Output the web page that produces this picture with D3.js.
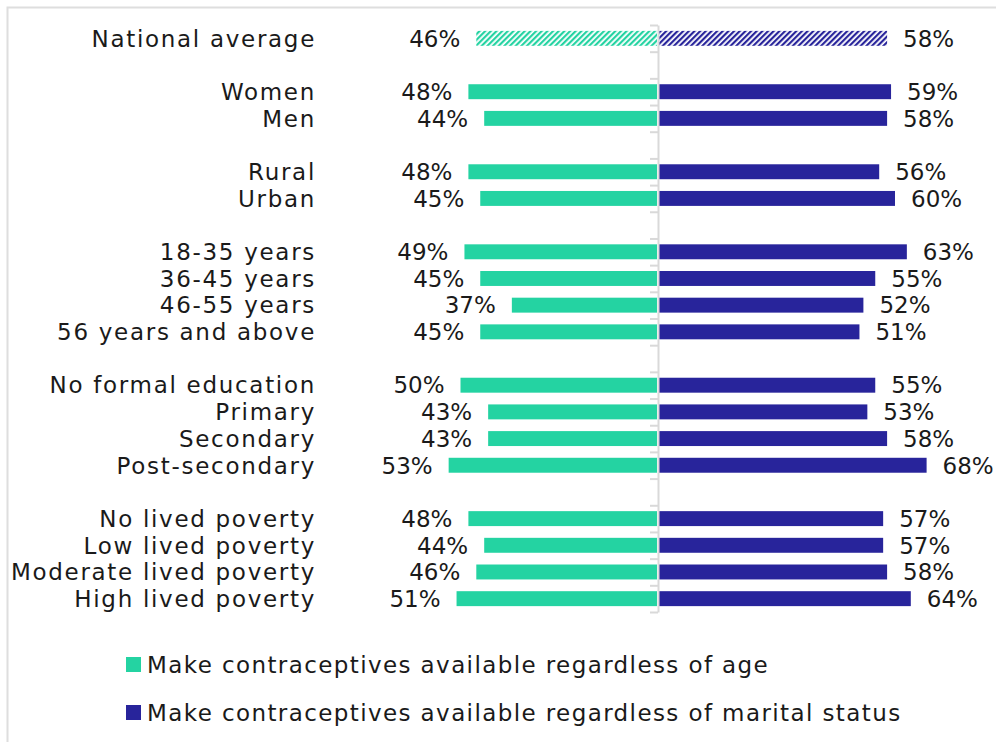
<!DOCTYPE html>
<html>
<head>
<meta charset="utf-8">
<script src="https://cdn.jsdelivr.net/npm/d3@7"></script>
<style>
  html, body { margin: 0; padding: 0; background: #fff; }
  svg { display: block; }
  text { font-family: "DejaVu Sans", sans-serif; fill: #1a1a1a; }
</style>
</head>
<body>
<svg id="chart" width="996" height="742"></svg>
<script>
// ---- data ----
const categories = [
  "National average", "_g1",
  "Women", "Men", "_g2",
  "Rural", "Urban", "_g3",
  "18-35 years", "36-45 years", "46-55 years", "56 years and above", "_g4",
  "No formal education", "Primary", "Secondary", "Post-secondary", "_g5",
  "No lived poverty", "Low lived poverty", "Moderate lived poverty", "High lived poverty"
];
const ageValues = [46, null, 48, 44, null, 48, 45, null, 49, 45, 37, 45, null, 50, 43, 43, 53, null, 48, 44, 46, 51];
const maritalValues = [58, null, 59, 58, null, 56, 60, null, 63, 55, 52, 51, null, 55, 53, 58, 68, null, 57, 57, 58, 64];
const seriesNames = [
  "Make contraceptives available regardless of age",
  "Make contraceptives available regardless of marital status"
];
const colors = ["#24D3A2", "#28249B"];

// ---- layout ----
const svg = d3.select("#chart");
const cx = 658, yTop = 25, yBottom = 612;

svg.append("rect")
  .attr("x", 7.5).attr("y", 7.5).attr("width", 1100).attr("height", 1100)
  .attr("fill", "none").attr("stroke", "#dedede").attr("stroke-width", 2);

const defs = svg.append("defs");
[0, 1].forEach(i => {
  const p = defs.append("pattern")
    .attr("id", "hatch" + i)
    .attr("patternUnits", "userSpaceOnUse")
    .attr("width", 4).attr("height", 4)
    .attr("patternTransform", "rotate(45)");
  p.append("rect").attr("width", 4).attr("height", 4).attr("fill", "#fff");
  p.append("rect").attr("width", 2.2).attr("height", 4).attr("fill", colors[i]);
});

const y = d3.scaleBand().domain(categories).range([yTop, yBottom]).paddingInner(0.44).paddingOuter(0.22);
const xL = d3.scaleLinear().domain([0, 100]).range([cx, cx - 395]);
const xR = d3.scaleLinear().domain([0, 100]).range([cx, cx + 395]);

const rows = categories.map((c, i) => ({ c, i, a: ageValues[i], m: maritalValues[i] }))
  .filter(d => d.a !== null);

const fs = 23, ls = 1.7;

// bars
svg.append("g").selectAll("rect").data(rows).join("rect")
  .attr("x", d => xL(d.a)).attr("width", d => cx - xL(d.a) - 1)
  .attr("y", d => y(d.c)).attr("height", y.bandwidth())
  .attr("fill", d => d.i === 0 ? "url(#hatch0)" : colors[0]);
svg.append("g").selectAll("rect").data(rows).join("rect")
  .attr("x", cx + 1).attr("width", d => xR(d.m) - cx - 1)
  .attr("y", d => y(d.c)).attr("height", y.bandwidth())
  .attr("fill", d => d.i === 0 ? "url(#hatch1)" : colors[1]);

// axis with ticks at band boundaries
const yB = d3.scaleLinear().domain([0, categories.length]).range([yTop, yBottom]);
const ax = svg.append("g").attr("transform", `translate(${cx},0)`)
  .call(d3.axisLeft(yB).tickValues(d3.range(categories.length + 1)).tickSize(8).tickSizeOuter(0).tickFormat(""));
ax.selectAll("path, line").attr("stroke", "#d9d9d9").attr("stroke-width", 2);

const mid = d => y(d.c) + y.bandwidth() / 2;

// category labels
svg.append("g").selectAll("text").data(rows).join("text")
  .attr("x", 316).attr("y", mid).attr("dy", "0.36em")
  .attr("text-anchor", "end").style("font-size", fs + "px").style("letter-spacing", ls + "px")
  .text(d => d.c);

// value labels
svg.append("g").selectAll("text").data(rows).join("text")
  .attr("x", d => xL(d.a) - 16).attr("y", mid).attr("dy", "0.36em")
  .attr("text-anchor", "end").style("font-size", fs + "px")
  .text(d => d.a + "%");
svg.append("g").selectAll("text").data(rows).join("text")
  .attr("x", d => xR(d.m) + 16).attr("y", mid).attr("dy", "0.36em")
  .attr("text-anchor", "start").style("font-size", fs + "px")
  .text(d => d.m + "%");

// legend
const lg = svg.append("g").selectAll("g").data(seriesNames).join("g")
  .attr("transform", (d, i) => `translate(126,${657 + i * 48})`);
lg.append("rect").attr("width", 15).attr("height", 15).attr("fill", (d, i) => colors[i]);
lg.append("text").attr("x", 21).attr("y", 7.5).attr("dy", "0.36em")
  .style("font-size", fs + "px").style("letter-spacing", "1.4px").text(d => d);
</script>
</body>
</html>
